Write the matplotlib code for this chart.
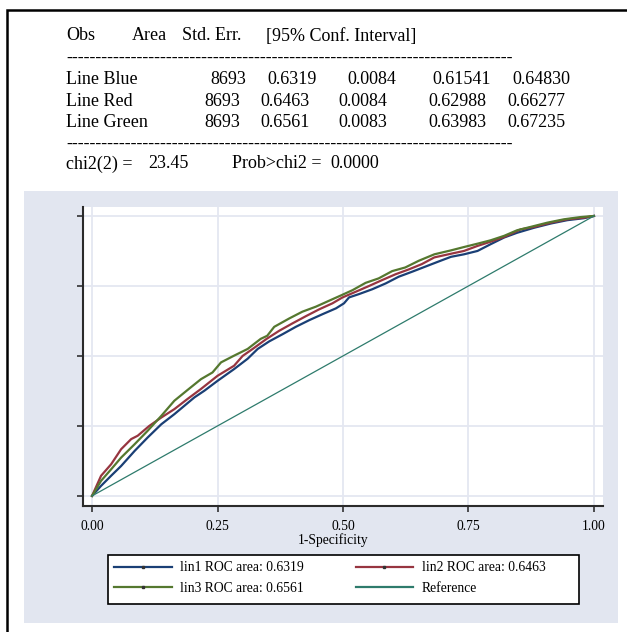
import matplotlib.pyplot as plt
from matplotlib.patches import Rectangle
from matplotlib.lines import Line2D

# ROC curves (1-specificity, sensitivity)
blue_x = [0, 0.018, 0.038, 0.058, 0.085, 0.111, 0.138, 0.164, 0.184, 0.204, 0.224, 0.250, 0.283,
          0.310, 0.330, 0.353, 0.380, 0.406, 0.433, 0.459, 0.486, 0.502, 0.512, 0.532, 0.558,
          0.585, 0.611, 0.638, 0.664, 0.690, 0.715, 0.741, 0.768, 0.794, 0.821, 0.847, 0.881,
          0.914, 0.947, 0.980, 1.0]
blue_y = [0, 0.036, 0.072, 0.107, 0.161, 0.209, 0.256, 0.292, 0.322, 0.352, 0.376, 0.411, 0.453,
          0.490, 0.525, 0.552, 0.578, 0.604, 0.628, 0.649, 0.670, 0.688, 0.709, 0.721, 0.738,
          0.759, 0.783, 0.801, 0.819, 0.837, 0.854, 0.863, 0.875, 0.899, 0.923, 0.940, 0.958,
          0.973, 0.985, 0.992, 1.0]

red_x = [0, 0.018, 0.038, 0.058, 0.078, 0.091, 0.114, 0.138, 0.164, 0.190, 0.217, 0.250, 0.283,
         0.300, 0.320, 0.347, 0.373, 0.399, 0.426, 0.452, 0.479, 0.499, 0.525, 0.552, 0.578,
         0.605, 0.631, 0.657, 0.682, 0.715, 0.741, 0.768, 0.794, 0.821, 0.854, 0.881, 0.914,
         0.947, 0.980, 1.0]
red_y = [0, 0.072, 0.113, 0.167, 0.203, 0.215, 0.250, 0.280, 0.310, 0.346, 0.382, 0.429, 0.465,
         0.500, 0.525, 0.560, 0.590, 0.616, 0.642, 0.666, 0.688, 0.709, 0.729, 0.750, 0.771,
         0.792, 0.809, 0.828, 0.852, 0.865, 0.875, 0.893, 0.908, 0.925, 0.952, 0.961, 0.976,
         0.988, 0.994, 1.0]

green_x = [0, 0.018, 0.038, 0.058, 0.085, 0.111, 0.138, 0.164, 0.190, 0.217, 0.240, 0.257, 0.283,
           0.310, 0.336, 0.349, 0.363, 0.393, 0.419, 0.446, 0.472, 0.497, 0.519, 0.545, 0.571,
           0.598, 0.624, 0.651, 0.682, 0.715, 0.741, 0.768, 0.794, 0.821, 0.847, 0.874, 0.907,
           0.940, 0.973, 1.0]
green_y = [0, 0.054, 0.095, 0.137, 0.185, 0.233, 0.286, 0.340, 0.378, 0.417, 0.441, 0.477, 0.501,
           0.525, 0.561, 0.572, 0.604, 0.634, 0.658, 0.676, 0.697, 0.717, 0.735, 0.761, 0.777,
           0.803, 0.816, 0.840, 0.863, 0.877, 0.889, 0.901, 0.913, 0.929, 0.949, 0.961, 0.976,
           0.988, 0.996, 1.0]

ref_x = [0, 1]
ref_y = [0, 1]

legend_labels = ["lin1 ROC area: 0.6319", "lin2 ROC area: 0.6463",
                 "lin3 ROC area: 0.6561", "Reference"]
xticks = [0, 0.25, 0.5, 0.75, 1.0]
xtick_labels = ["0.00", "0.25", "0.50", "0.75", "1.00"]

# table on top
header = ["Obs", "Area", "Std. Err.", "[95% Conf. Interval]"]
row_names = ["Line Blue", "Line Red", "Line Green"]
obs = ["8693", "8693", "8693"]
area = ["0.6319", "0.6463", "0.6561"]
std_err = ["0.0084", "0.0084", "0.0083"]
ci_low = ["0.61541", "0.62988", "0.63983"]
ci_high = ["0.64830", "0.66277", "0.67235"]
chi2_text = ["chi2(2) =", "23.45", "Prob>chi2 =", "0.0000"]

colors = ["#1a3f75", "#973540", "#55782f", "#2e7b6c"]

serif = "Liberation Serif"
W, H = 627, 632

fig = plt.figure(figsize=(6.27, 6.32), dpi=100)
fig.patch.set_facecolor("white")


def fx(px):
    return px / W


def fy(py):
    return 1 - py / H


# outer frame (only left and top edges visible)
fig.add_artist(Rectangle((fx(6.5), -0.05), 1.1, fy(10) + 0.05, transform=fig.transFigure,
                         fill=False, edgecolor="black", lw=1.8))
# light grey panel behind the graph
fig.add_artist(Rectangle((fx(24), fy(623)), fx(594), 432 / H, transform=fig.transFigure,
                         facecolor="#e2e6f0", edgecolor="none", zorder=0))

tsize = 13
for t, cx in zip(header, [66, 132, 182, 266]):
    fig.text(fx(cx), fy(40.5), t, fontsize=tsize, family=serif)
dashes = "-" * 76
fig.text(fx(66), fy(63), dashes, fontsize=tsize, family=serif)
fig.text(fx(66), fy(149), dashes, fontsize=tsize, family=serif)

row_base = [84.5, 105.5, 126.5]
col_x = [[210, 267, 347, 432, 512], [204, 260, 338, 428, 507], [204, 260, 338, 428, 507]]
for i in range(3):
    fig.text(fx(66), fy(row_base[i]), row_names[i], fontsize=tsize, family=serif)
    vals = [obs[i], area[i], std_err[i], ci_low[i], ci_high[i]]
    for v, cx in zip(vals, col_x[i]):
        fig.text(fx(cx), fy(row_base[i]), v, fontsize=tsize, family=serif)

for t, cx in zip(chi2_text, [66, 148, 232, 330]):
    fig.text(fx(cx), fy(168.5), t, fontsize=tsize, family=serif)

# the ROC plot
ax = fig.add_axes([fx(83), fy(506), (603 - 83) / W, (506 - 207) / H])
ax.set_facecolor("white")
ax.plot(blue_x, blue_y, color=colors[0], lw=1.6)
ax.plot(red_x, red_y, color=colors[1], lw=1.6)
ax.plot(green_x, green_y, color=colors[2], lw=1.6)
ax.plot(ref_x, ref_y, color=colors[3], lw=0.9)

ax.set_xlim(-0.018, 1.018)
ax.set_ylim(-0.036, 1.032)
ax.set_xticks(xticks)
ax.set_xticklabels(xtick_labels, family=serif, fontsize=9.8)
ax.set_yticks(xticks)
ax.set_yticklabels([])
ax.tick_params(direction="out", length=4.3, width=1.1, color="#222222", pad=5.5)
ax.grid(True, color="#e4e7f1", lw=1.3)
ax.set_axisbelow(True)
for s in ["top", "right"]:
    ax.spines[s].set_visible(False)
for s in ["left", "bottom"]:
    ax.spines[s].set_color("#2b2b2b")
    ax.spines[s].set_linewidth(1.5)

fig.text(fx(333), fy(540), "1-Specificity", ha="center", va="center", fontsize=9.8, family=serif)

# legend: box drawn separately, entries in two columns
fig.add_artist(Rectangle((fx(108), fy(604)), (579 - 108) / W, 49 / H, transform=fig.transFigure,
                         facecolor="white", edgecolor="black", lw=1.2, zorder=2))
handles = [Line2D([], [], color=colors[i], lw=1.6, marker="s", ms=1.6,
                  mfc="#333333", mec="#333333") for i in range(3)]
handles.append(Line2D([], [], color=colors[3], lw=1.6))
leg = fig.legend([handles[0], handles[2], handles[1], handles[3]],
                 [legend_labels[0], legend_labels[2], legend_labels[1], legend_labels[3]],
                 ncol=2, loc="upper left", bbox_to_anchor=(fx(108), fy(555)),
                 borderaxespad=0, frameon=False, prop={"family": serif, "size": 9.8},
                 handlelength=4.2, handletextpad=0.65, borderpad=0.47, labelspacing=0.57,
                 columnspacing=3.8, numpoints=1)
leg.set_zorder(3)

fig.savefig("out.png", dpi=100)
